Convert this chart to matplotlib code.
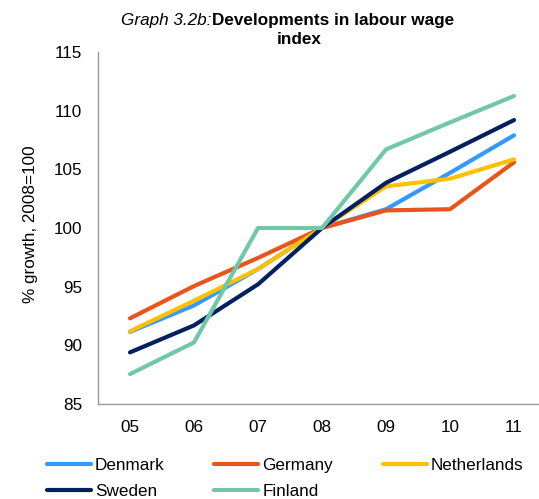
import matplotlib.pyplot as plt

plt.rcParams['font.family'] = ['Liberation Sans', 'DejaVu Sans']

years = ['05', '06', '07', '08', '09', '10', '11']
denmark = [91.15, 93.4, 96.5, 100, 101.6, 104.7, 107.9]
germany = [92.3, 95.05, 97.45, 100, 101.5, 101.6, 105.6]
netherlands = [91.2, 93.8, 96.5, 100, 103.55, 104.2, 105.85]
sweden = [89.4, 91.7, 95.2, 100, 103.85, 106.5, 109.2]
finland = [87.55, 90.25, 100, 100, 106.7, 109.0, 111.25]

labels = ['Denmark', 'Germany', 'Netherlands', 'Sweden', 'Finland']
colors = ['#3399ff', '#e8541c', '#ffc000', '#002060', '#70c8a8']
series = [denmark, germany, netherlands, sweden, finland]

W, H = 539, 499
fs = 12.3
fig = plt.figure(figsize=(W / 100, H / 100), dpi=100)
ax = fig.add_axes([98 / W, 1 - 404 / H, (539 - 98) / W, (404 - 52) / H])

x = range(len(years))
lines = []
for vals, color, label in zip(series, colors, labels):
    ln, = ax.plot(x, vals, color=color, lw=3, label=label, solid_capstyle='round')
    lines.append(ln)

ax.set_xlim(-0.5, 6.39)
ax.set_ylim(85, 115)
ax.set_xticks(list(x))
ax.set_xticklabels(years)
ax.set_yticks(range(85, 116, 5))
ax.tick_params(length=0, labelsize=fs, pad=11.5)
for s in ['top', 'right']:
    ax.spines[s].set_visible(False)
for s in ['left', 'bottom']:
    ax.spines[s].set_color('#999999')
    ax.spines[s].set_linewidth(1)

fig.text(31 / W, 1 - 224 / H, '% growth, 2008=100', rotation=90,
         ha='center', va='center', fontsize=fs)

# title: italic prefix + bold text
fig.text(211 / W, 1 - 20 / H, 'Graph 3.2b:', style='italic', fontsize=fs,
         ha='right', va='center')
fig.text(212 / W, 1 - 20 / H, 'Developments in labour wage', weight='bold',
         fontsize=fs, ha='left', va='center')
fig.text(299 / W, 1 - 39 / H, 'index', weight='bold', fontsize=fs,
         ha='center', va='center')

# row-wise legend order (matplotlib fills columns first)
order = [0, 3, 1, 4, 2]
fig.legend([lines[i] for i in order], [labels[i] for i in order],
           loc='upper left', bbox_to_anchor=(47 / W, 1 - 458 / H), ncol=3,
           frameon=False, fontsize=fs, handlelength=2.57, handletextpad=0.23,
           columnspacing=2.92, borderpad=0, borderaxespad=0, labelspacing=0.63)

plt.savefig('out.png', dpi=100)
